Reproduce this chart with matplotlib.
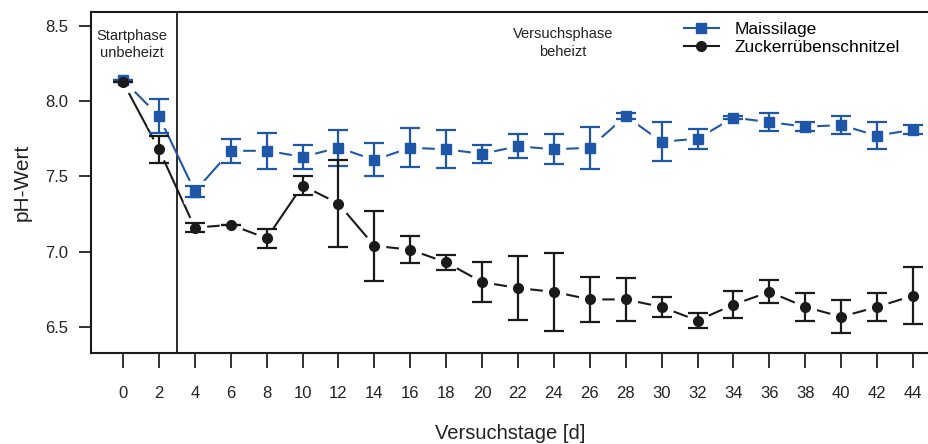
import numpy as np
import matplotlib
matplotlib.use("Agg")
import matplotlib.pyplot as plt
from matplotlib.lines import Line2D

plt.rcParams['font.family'] = ['Liberation Sans', 'DejaVu Sans']

# Versuchstage
days = [0, 2, 4, 6, 8, 10, 12, 14, 16, 18, 20, 22, 24, 26, 28, 30, 32, 34, 36, 38, 40, 42, 44]

# Maissilage: Mittelwert und Standardabweichung
mais_mean = [8.14, 7.90, 7.40, 7.67, 7.67, 7.63, 7.69, 7.61, 7.69, 7.68, 7.65, 7.70, 7.68, 7.69,
             7.90, 7.73, 7.75, 7.89, 7.86, 7.83, 7.84, 7.77, 7.81]
mais_sd = [0.0, 0.11, 0.035, 0.08, 0.12, 0.08, 0.12, 0.11, 0.13, 0.125, 0.06, 0.08, 0.10, 0.14,
           0.02, 0.13, 0.065, 0.01, 0.06, 0.03, 0.06, 0.09, 0.028]

# Zuckerruebenschnitzel
zrs_mean = [8.125, 7.68, 7.16, 7.18, 7.09, 7.44, 7.32, 7.04, 7.015, 6.93, 6.80, 6.76, 6.735, 6.685,
            6.685, 6.635, 6.545, 6.65, 6.735, 6.635, 6.57, 6.635, 6.71]
zrs_sd = [0.0, 0.09, 0.03, 0.0, 0.065, 0.065, 0.29, 0.23, 0.09, 0.05, 0.13, 0.21, 0.26, 0.15,
          0.14, 0.065, 0.05, 0.09, 0.077, 0.09, 0.11, 0.09, 0.19]

labels = ['Maissilage', 'Zuckerrübenschnitzel']
blue = '#1f57a8'
black = '#1a1a1a'

fig = plt.figure(figsize=(9.29, 4.44), dpi=100)
ax = fig.add_axes([0.098, 0.205, 0.912, 0.768])

# lines first, then white halo so the line stops short of the points
ax.plot(days, mais_mean, color=blue, lw=1.5, zorder=2)
ax.plot(days, zrs_mean, color=black, lw=1.5, zorder=2)
ax.plot(days, mais_mean, ls='none', marker='s', ms=16, mfc='white', mec='white', zorder=3)
ax.plot(days, zrs_mean, ls='none', marker='o', ms=16, mfc='white', mec='white', zorder=3)

ax.errorbar(days, mais_mean, yerr=mais_sd, fmt='none', ecolor=blue, elinewidth=1.6,
            capsize=7.5, capthick=1.6, zorder=4)
ax.errorbar(days, zrs_mean, yerr=zrs_sd, fmt='none', ecolor=black, elinewidth=1.6,
            capsize=7.5, capthick=1.6, zorder=4)
ax.plot(days, mais_mean, ls='none', marker='s', ms=7.5, color=blue, zorder=5)
ax.plot(days, zrs_mean, ls='none', marker='o', ms=7, color=black, zorder=6)

# Phasengrenze
ax.axvline(3, color=black, lw=1.3, zorder=1)
ax.text(0.5, 8.375, 'Startphase\nunbeheizt', ha='center', va='center', fontsize=10.5,
        color='#222222', linespacing=1.3)
ax.text(24.5, 8.385, 'Versuchsphase\nbeheizt', ha='center', va='center', fontsize=10.5,
        color='#222222', linespacing=1.3)

ax.set_xlim(-1.78, 45.41)
ax.set_ylim(6.33, 8.59)
ax.set_xticks(days)
ax.set_yticks([6.5, 7.0, 7.5, 8.0, 8.5])
ax.set_yticklabels(['6.5', '7.0', '7.5', '8.0', '8.5'])
ax.tick_params(axis='x', length=11, width=1.3, pad=13, labelsize=12, colors='#222222')
ax.tick_params(axis='y', length=8.5, width=1.3, pad=8, labelsize=12, colors='#222222')
for sp in ax.spines.values():
    sp.set_linewidth(1.5)
    sp.set_color(black)

ax.set_xlabel('Versuchstage [d]', fontsize=14.5, color='#222222', va='center')
ax.xaxis.set_label_coords(0.495, -0.235)
ax.set_ylabel('pH-Wert', fontsize=15, color='#222222', va='center')
ax.yaxis.set_label_coords(-0.0815, 0.5)

handles = [Line2D([], [], color=blue, lw=1.5, marker='s', ms=7.5),
           Line2D([], [], color=black, lw=1.5, marker='o', ms=7)]
ax.legend(handles, labels, loc='upper left', bbox_to_anchor=(0.700, 0.970), frameon=False,
          fontsize=12.5, handlelength=2.0, handletextpad=0.9, labelspacing=0.15,
          borderpad=0, borderaxespad=0)

fig.savefig('out.png', dpi=100)
